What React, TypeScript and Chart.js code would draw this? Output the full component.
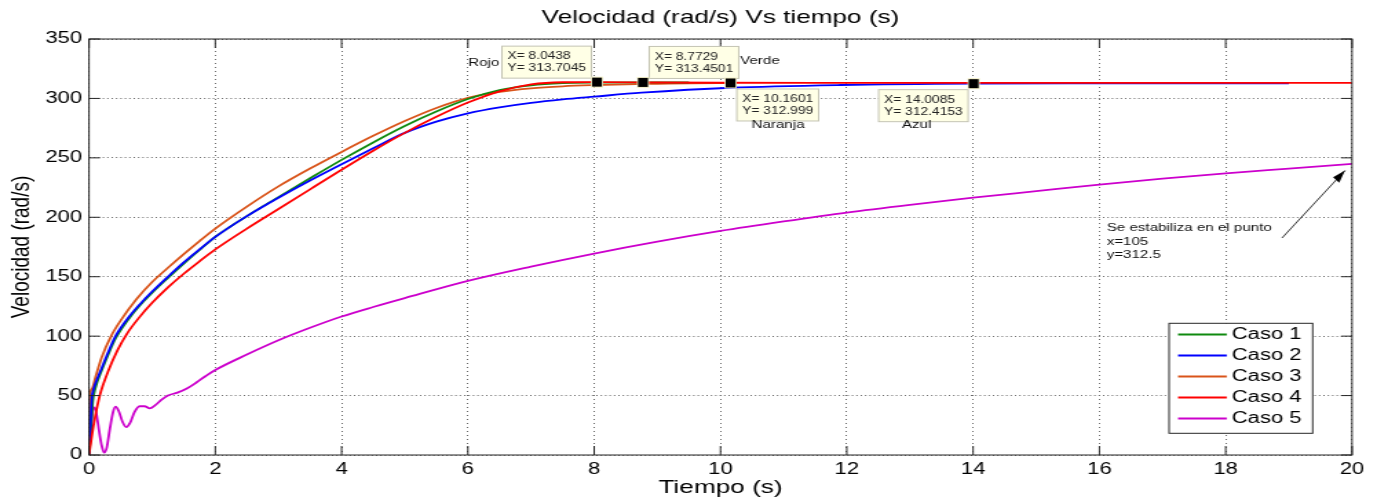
import React, { useEffect, useRef } from "react";
import { Chart, registerables } from "chart.js";

Chart.register(...registerables);

// ---------------- data ----------------
const seriesNames = ["Caso 1", "Caso 2", "Caso 3", "Caso 4", "Caso 5"];

const caso1T = [0, 0.03, 0.06, 0.1, 0.2, 0.3, 0.42, 0.6, 0.8, 1.0, 1.25, 1.5, 1.75, 2, 2.5, 3, 3.5, 4, 4.5, 5, 5.5, 6, 6.5, 7, 7.5, 8, 8.77, 9.5];
const caso1V = [0, 20, 45, 56, 71, 84, 98, 112.5, 125.5, 136.5, 149, 161, 172.5, 183.5, 201, 217, 232.8, 248.3, 263, 276.8, 289, 299.5, 307, 311, 312.8, 313.3, 313.4501, 313.4];

const caso2T = [0, 0.02, 0.04, 0.07, 0.1, 0.2, 0.3, 0.42, 0.6, 0.8, 1.0, 1.25, 1.5, 1.75, 2, 2.5, 3, 3.5, 4, 4.5, 5, 5.5, 6, 6.5, 7, 7.5, 8, 8.75, 10.16, 11.9, 14.0085, 16, 19];
const caso2V = [0, 20, 45, 55, 60, 73, 86, 100, 114, 126.5, 137.5, 150, 162, 173, 183.5, 201, 216.5, 231, 244.7, 258, 271, 280.5, 287.5, 292.5, 296.3, 299.2, 301.5, 304.8, 309, 311.3, 312.4153, 312.6, 312.7];

const caso3T = [0, 0.01, 0.02, 0.05, 0.1, 0.2, 0.35, 0.5, 0.75, 1.0, 1.25, 1.5, 1.75, 2, 2.5, 3, 3.5, 4, 4.5, 5, 5.5, 6, 6.5, 7, 7.5, 8, 8.5, 9, 9.5, 10.1601];
const caso3V = [0, 30, 52, 56, 65, 82, 100, 113, 131, 145.5, 157.5, 169, 180, 190.5, 209, 226, 241, 255, 268.5, 281, 292, 300.5, 305.5, 308.5, 310.2, 311.2, 311.9, 312.3, 312.7, 312.999];

const caso4T = [0, 0.05, 0.1, 0.17, 0.3, 0.45, 0.6, 0.8, 1.0, 1.25, 1.5, 1.75, 2, 2.5, 3, 3.5, 4, 4.5, 5, 5.5, 6, 6.5, 7, 7.5, 8.0438, 9, 10, 12, 16, 20];
const caso4V = [0, 18, 33, 50, 70, 88, 102, 116, 128, 141, 152.5, 163, 173, 190.5, 207, 223.5, 240, 256, 271, 284.5, 296.5, 306, 311.8, 313.6, 313.7045, 313.4, 313.2, 313.1, 313.1, 313.1];

const caso5T = [0, 0.03, 0.06, 0.09, 0.12, 0.16, 0.2, 0.24, 0.28, 0.33, 0.38, 0.42, 0.47, 0.53, 0.59, 0.65, 0.72, 0.8, 0.88, 0.96, 1.05, 1.15, 1.25, 1.4, 1.55, 1.7, 1.85, 2, 2.5, 3, 3.5, 4, 4.5, 5, 6, 7, 8, 9, 10, 11, 12, 13, 14, 15, 16, 17, 18, 19, 20];
const caso5V = [0, 22, 38, 40, 34, 20, 8, 2, 6, 22, 36, 40.7, 37, 28, 23.5, 27, 36, 41, 41, 39.3, 42, 46.5, 50, 52.5, 56, 61, 66.5, 71.5, 84.5, 96.5, 107, 116.5, 124.5, 132, 146.5, 158.5, 169.5, 179.5, 188.5, 196.5, 204, 210.5, 216.5, 222, 227.5, 232.5, 237, 241, 245];

const datatipX = [8.0438, 8.7729, 10.1601, 14.0085];
const datatipY = [313.7045, 313.4501, 312.999, 312.4153];
const datatipNames = ["Rojo", "Verde", "Naranja", "Azul"];

const annotationLines = ["Se estabiliza en el punto", "x=105", "y=312.5"];

const titleText = "Velocidad (rad/s) Vs tiempo (s)";
const xTitle = "Tiempo (s)";
const yTitle = "Velocidad (rad/s)";

// ---------------- styles ----------------
const S = 1377 / 1000; // horizontal stretch of the canvas
const FAM = '"Liberation Sans", Arial, Helvetica, sans-serif';
const colors = ["#0f8a0f", "#0000ff", "#d9541a", "#ff0000", "#cc00cc"];
const drawOrder = [2, 1, 3, 0, 4];
// corner of the datatip box anchored at its marker
const tipAnchor = ["br", "bl", "tl", "tr"];
const tipLabelPos = [
  { x: 340, y: 63, align: "left" },
  { x: 537.5, y: 61, align: "left" },
  { x: 565, y: 125, align: "center" },
  { x: 665.7, y: 125, align: "center" },
];

const toXY = (t: number[], v: number[]) => t.map((x, i) => ({ x, y: v[i] }));

const overlayPlugin = {
  id: "overlay",
  afterDatasetsDraw(chart: any) {
    const { ctx, chartArea: a, scales } = chart;
    const xs = scales.x;
    const ys = scales.y;
    ctx.save();

    const seg = (x1: number, y1: number, x2: number, y2: number) => {
      ctx.beginPath();
      ctx.moveTo(x1, y1);
      ctx.lineTo(x2, y2);
      ctx.stroke();
    };

    // axes box + inward ticks
    ctx.strokeStyle = "#262626";
    ctx.lineWidth = 1;
    ctx.setLineDash([]);
    ctx.strokeRect(a.left, a.top, a.right - a.left, a.bottom - a.top);
    xs.ticks.forEach((t: any) => {
      const p = xs.getPixelForValue(t.value);
      seg(p, a.bottom, p, a.bottom - 9);
      seg(p, a.top, p, a.top + 9);
    });
    ys.ticks.forEach((t: any) => {
      const p = ys.getPixelForValue(t.value);
      seg(a.left, p, a.left + 8, p);
      seg(a.right, p, a.right - 8, p);
    });

    // datatips
    ctx.font = `10px ${FAM}`;
    datatipX.forEach((dx, i) => {
      const mx = xs.getPixelForValue(dx);
      const my = ys.getPixelForValue(datatipY[i]);
      const l1 = `X= ${dx}`;
      const l2 = `Y= ${datatipY[i]}`;
      const w = Math.max(ctx.measureText(l1).width, ctx.measureText(l2).width) + 8;
      const h = 32;
      const an = tipAnchor[i];
      const bx = an[1] === "r" ? mx - 4 - w : mx + 4.5;
      const by = an[0] === "b" ? my - 4 - h : my + 6;
      ctx.fillStyle = "#ffffe6";
      ctx.fillRect(bx, by, w, h);
      ctx.strokeStyle = "#c4c4b4";
      ctx.lineWidth = 1;
      ctx.strokeRect(bx, by, w, h);
      ctx.fillStyle = "#222";
      ctx.textAlign = "left";
      ctx.textBaseline = "middle";
      ctx.fillText(l1, bx + 4, by + 10.5);
      ctx.fillText(l2, bx + 4, by + 22.5);
      // marker
      ctx.fillStyle = "#f3f0c8";
      ctx.fillRect(mx - 4.4, my - 5.5, 8.8, 11);
      ctx.fillStyle = "#000";
      ctx.fillRect(mx - 3.6, my - 4.5, 7.2, 9);
    });

    // datatip names
    ctx.font = `11px ${FAM}`;
    ctx.fillStyle = "#111";
    ctx.textBaseline = "middle";
    datatipNames.forEach((n, i) => {
      const p = tipLabelPos[i];
      ctx.textAlign = p.align;
      ctx.fillText(n, p.x, p.y);
    });

    // annotation text + arrow
    ctx.textAlign = "left";
    annotationLines.forEach((s, i) => ctx.fillText(s, 803.7, 228 + i * 13.5));
    const tail = { x: 1282, y: 238 };
    const tip = { x: 1345, y: 170.5 };
    ctx.strokeStyle = "#000";
    ctx.lineWidth = 0.8;
    seg(tail.x / S, tail.y, tip.x / S, tip.y);
    const ang = Math.atan2(tip.y - tail.y, tip.x - tail.x);
    const L = 13, Wd = 4.2;
    const bxr = tip.x - L * Math.cos(ang);
    const byr = tip.y - L * Math.sin(ang);
    const px = -Math.sin(ang), py = Math.cos(ang);
    ctx.fillStyle = "#000";
    ctx.beginPath();
    ctx.moveTo(tip.x / S, tip.y);
    ctx.lineTo((bxr + px * Wd) / S, byr + py * Wd);
    ctx.lineTo((bxr - px * Wd) / S, byr - py * Wd);
    ctx.closePath();
    ctx.fill();

    // legend
    const lx = 849, ly = 323.3, lw = 104.3, lh = 110;
    ctx.fillStyle = "#fff";
    ctx.fillRect(lx, ly, lw, lh);
    ctx.strokeStyle = "#262626";
    ctx.lineWidth = 1;
    ctx.strokeRect(lx, ly, lw, lh);
    ctx.font = `16px ${FAM}`;
    chart.data.datasets.forEach((ds: any, i: number) => {
      const yy = 334.5 + i * 21;
      ctx.strokeStyle = ds.borderColor;
      ctx.lineWidth = 1.8;
      seg(855.5, yy, 890.9, yy);
      ctx.fillStyle = "#000";
      ctx.textAlign = "left";
      ctx.textBaseline = "middle";
      ctx.fillText(ds.label, 894.5, yy + 0.5);
    });

    // titles
    const cxm = (a.left + a.right) / 2;
    ctx.fillStyle = "#000";
    ctx.textAlign = "center";
    ctx.textBaseline = "middle";
    ctx.font = `19px ${FAM}`;
    ctx.fillText(titleText, cxm, 18);
    ctx.fillText(xTitle, cxm, 488);
    ctx.save();
    ctx.translate(16, (a.top + a.bottom) / 2);
    ctx.rotate(-Math.PI / 2);
    ctx.fillText(yTitle, 0, 0);
    ctx.restore();

    ctx.restore();
  },
};

export default function App() {
  const ref = useRef<HTMLCanvasElement>(null);
  useEffect(() => {
    const allT = [caso1T, caso2T, caso3T, caso4T, caso5T];
    const allV = [caso1V, caso2V, caso3V, caso4V, caso5V];
    const chart = new Chart(ref.current as HTMLCanvasElement, {
      type: "line",
      data: {
        datasets: seriesNames.map((name, i) => ({
          label: name,
          data: toXY(allT[i], allV[i]),
          borderColor: colors[i],
          backgroundColor: colors[i],
          borderWidth: 1.8,
          pointRadius: 0,
          fill: false,
          cubicInterpolationMode: "monotone",
          order: drawOrder[i],
        })),
      },
      options: {
        responsive: false,
        animation: false,
        devicePixelRatio: 1,
        layout: { padding: { left: 0, right: 1000 - 1352 / S, top: 39, bottom: 0 } },
        plugins: {
          legend: { display: false },
          title: { display: false },
          tooltip: { enabled: false },
        },
        scales: {
          x: {
            type: "linear",
            min: 0,
            max: 20,
            afterFit: (s: any) => {
              s.height = 45;
            },
            ticks: {
              stepSize: 2,
              autoSkip: false,
              maxRotation: 0,
              padding: 5,
              color: "#000",
              font: { family: FAM, size: 16 },
            },
            grid: { color: "#6a6a6a", lineWidth: 1, drawTicks: false },
            border: { display: false, dash: [1, 3] },
          },
          y: {
            type: "linear",
            min: 0,
            max: 350,
            afterFit: (s: any) => {
              s.width = 89 / S;
            },
            ticks: {
              stepSize: 50,
              padding: 5,
              color: "#000",
              font: { family: FAM, size: 16 },
            },
            grid: { color: "#6a6a6a", lineWidth: 1, drawTicks: false },
            border: { display: false, dash: [1, 2.2] },
          },
        },
      },
      plugins: [overlayPlugin],
    } as any);
    return () => chart.destroy();
  }, []);
  return (
    <div style={{ position: "absolute", left: 0, top: 0, width: 1377, height: 500, background: "#fff" }}>
      <canvas
        ref={ref}
        width={1000}
        height={500}
        style={{ width: "1377px", height: "500px", display: "block" }}
      />
    </div>
  );
}
